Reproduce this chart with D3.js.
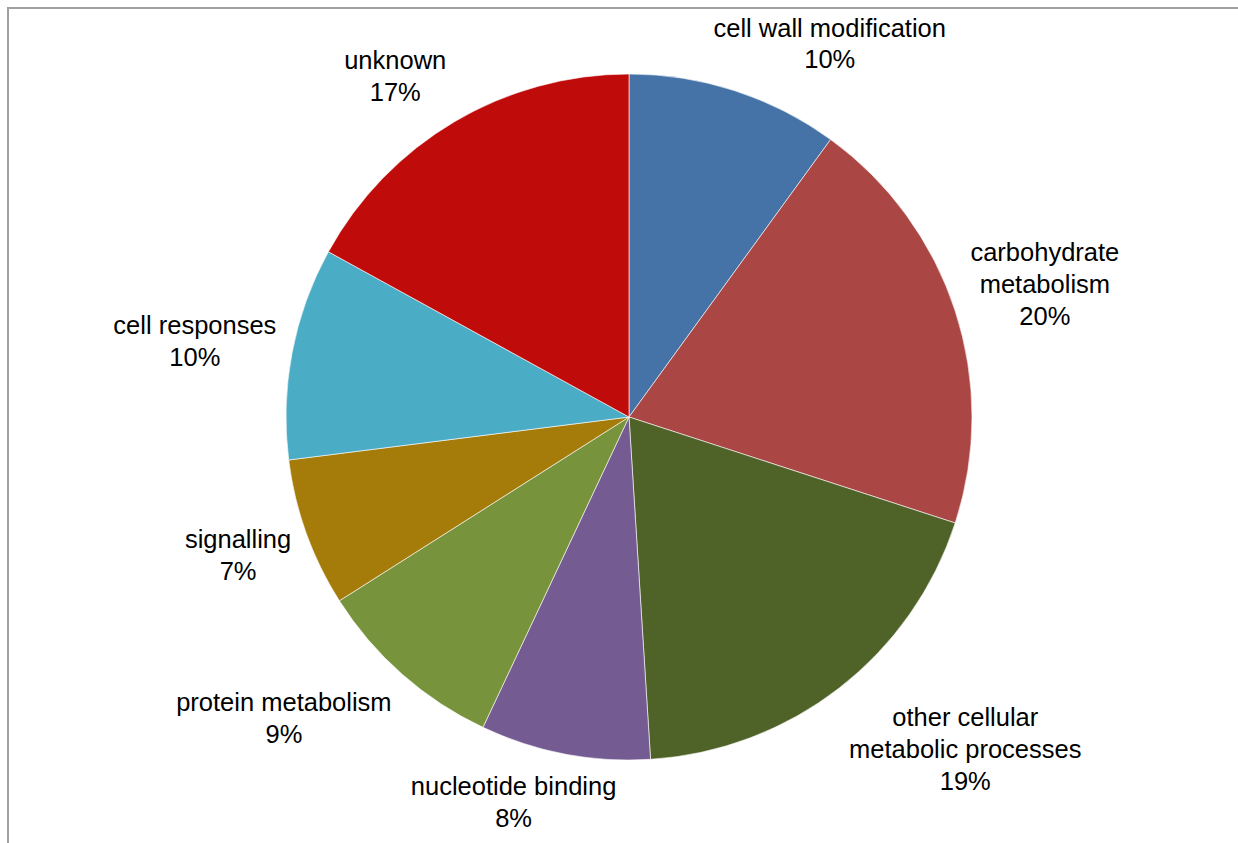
<!DOCTYPE html>
<html>
<head>
<meta charset="utf-8">
<script src="https://cdn.jsdelivr.net/npm/d3@7/dist/d3.min.js"></script>
<style>
  html, body { margin: 0; padding: 0; background: #fff; }
  svg { display: block; }
  text { font-family: "Liberation Sans", Arial, sans-serif; fill: #000; }
</style>
</head>
<body>
<svg id="chart" width="1238" height="843"></svg>
<script>
// Functional categories and their share (%)
const categories = [
  "cell wall modification",
  "carbohydrate metabolism",
  "other cellular metabolic processes",
  "nucleotide binding",
  "protein metabolism",
  "signalling",
  "cell responses",
  "unknown"
];
const shares = [10, 20, 19, 8, 9, 7, 10, 17];
// Label lines shown beside each slice
const labelLines = [
  ["cell wall modification"],
  ["carbohydrate", "metabolism"],
  ["other cellular", "metabolic processes"],
  ["nucleotide binding"],
  ["protein metabolism"],
  ["signalling"],
  ["cell responses"],
  ["unknown"]
];
const sliceColors = ["#4573A7", "#AA4644", "#4F6228", "#745B91", "#77933C", "#A57C0A", "#4BACC6", "#C00B0B"];

const W = 1238, H = 843;
const cx = 629, cy = 417, radius = 343;
const fontSize = 25.5, lineGap = 32, labelGap = 16;

const svg = d3.select("#chart");

// Chart frame (only the top and left edges fall inside the view)
svg.append("rect")
  .attr("x", 8).attr("y", 8)
  .attr("width", W + 100).attr("height", H + 100)
  .attr("fill", "none")
  .attr("stroke", "#a0a0a0")
  .attr("stroke-width", 2);

const data = categories.map((c, i) => ({ name: c, value: shares[i], lines: labelLines[i], color: sliceColors[i] }));

const pie = d3.pie().value(d => d.value).sort(null);
const arcs = pie(data);
const arc = d3.arc().innerRadius(0).outerRadius(radius);

const g = svg.append("g").attr("transform", `translate(${cx},${cy})`);

g.selectAll("path.slice")
  .data(arcs)
  .join("path")
  .attr("class", "slice")
  .attr("d", arc)
  .attr("fill", d => d.data.color)
  .attr("stroke", "#ffffff")
  .attr("stroke-width", 0.6);

// Data labels placed outside the slice ends
const clamp = (v) => Math.max(-1, Math.min(1, v));
arcs.forEach(a => {
  const mid = (a.startAngle + a.endAngle) / 2;
  const s = Math.sin(mid), c = Math.cos(mid);
  const lines = a.data.lines.concat([d3.format(".0%")(a.data.value / 100)]);
  const lab = g.append("g");
  const t = lab.append("text")
    .attr("text-anchor", "middle")
    .attr("font-size", fontSize);
  lines.forEach((ln, k) => {
    t.append("tspan")
      .attr("x", 0)
      .attr("y", (k - (lines.length - 1) / 2) * lineGap)
      .attr("dy", "0.35em")
      .text(ln);
  });
  const bb = t.node().getBBox();
  const w = bb.width, h = lines.length * lineGap;
  const R = radius + labelGap;
  const px = R * s, py = -R * c;
  const lx = px + clamp(2.5 * s) * w / 2;
  const ly = py - clamp(1.5 * c) * h / 2;
  lab.attr("transform", `translate(${lx},${ly})`);
});
</script>
</body>
</html>
